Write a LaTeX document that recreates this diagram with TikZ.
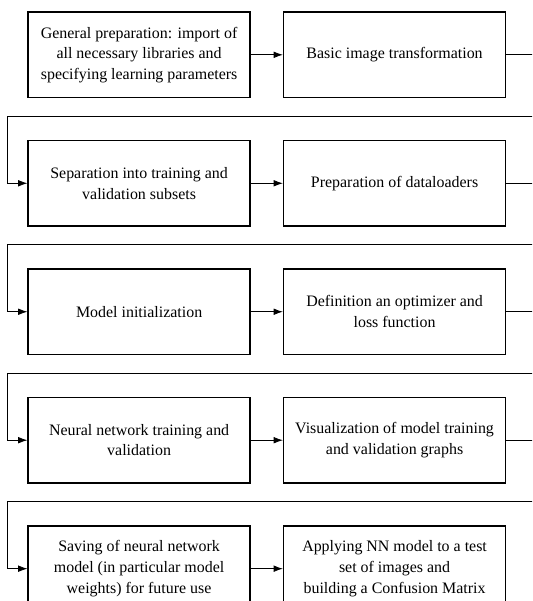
\documentclass[tikz,border=0pt]{standalone}
\usepackage{fontspec}
\setmainfont{Liberation Serif}
\newfontfamily\stagefont{Liberation Serif}
\usetikzlibrary{positioning,arrows.meta}

\begin{document}
\begin{tikzpicture}[>={Latex[length=7pt,width=5pt]},
  every node/.style={font=\stagefont\fontsize{12}{15.5}\selectfont},
  stage/.style={draw, line width=1.1pt, minimum width=5.87cm, minimum height=2.26cm, align=center, inner sep=2pt},
  link/.style={line width=0.6pt}]
  \useasboundingbox (0,0) rectangle (14.08,-15.9);
  \clip (0,0) rectangle (14.08,-15.9);
  \node[stage] (prep) at (3.68,-1.45) {General preparation: import of\\all necessary libraries and\\specifying learning parameters};
  \node[stage, right=0.85cm of prep] (transf) {Basic image transformation};
  \node[stage, below=1.1cm of prep] (split) {Separation into training and\\validation subsets};
  \node[stage, right=0.85cm of split] (loaders) {Preparation of dataloaders};
  \node[stage, below=1.1cm of split] (init) {Model initialization};
  \node[stage, right=0.85cm of init] (optim) {Definition an optimizer and\\loss function};
  \node[stage, below=1.1cm of init] (train) {Neural network training and\\validation};
  \node[stage, right=0.85cm of train] (plots) {Visualization of model training\\and validation graphs};
  \node[stage, below=1.1cm of train] (save) {Saving of neural network\\model (in particular model\\weights) for future use};
  \node[stage, right=0.85cm of save] (test) {Applying NN model to a test\\set of images and\\building a Confusion Matrix};
  \coordinate[above left=0.63cm and 0.53cm of split.north west] (turn1);
  \coordinate[above left=0.63cm and 0.53cm of init.north west] (turn2);
  \coordinate[above left=0.63cm and 0.53cm of train.north west] (turn3);
  \coordinate[above left=0.63cm and 0.53cm of save.north west] (turn4);
  \draw[->, link] (prep) -- (transf);
  \draw[->, link] (split) -- (loaders);
  \draw[->, link] (init) -- (optim);
  \draw[->, link] (train) -- (plots);
  \draw[->, link] (save) -- (test);
  \draw[->, link] (transf.east) -- ++(1.2,0) |- (turn1) |- (split.west);
  \draw[->, link] (loaders.east) -- ++(1.2,0) |- (turn2) |- (init.west);
  \draw[->, link] (optim.east) -- ++(1.2,0) |- (turn3) |- (train.west);
  \draw[->, link] (plots.east) -- ++(1.2,0) |- (turn4) |- (save.west);
\end{tikzpicture}
\end{document}
